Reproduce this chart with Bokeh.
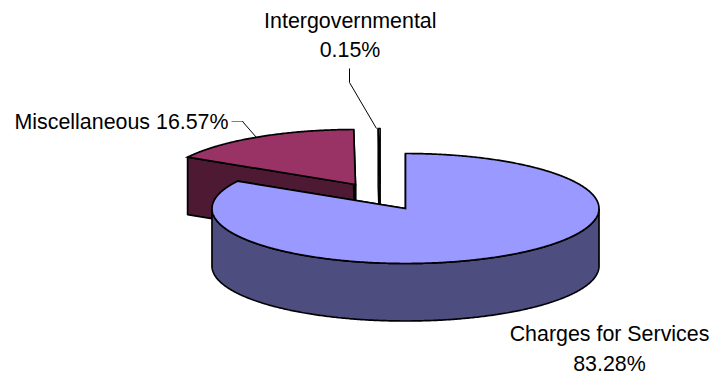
import numpy as np
from bokeh.plotting import figure
from bokeh.models import Range1d
from bokeh.core.properties import value
from bokeh.embed import file_html
from bokeh.resources import INLINE

# Revenue shares, in percent
names = ["Charges for Services", "Miscellaneous", "Intergovernmental"]
shares = [83.28, 16.57, 0.15]
top_colors = ["#9999FF", "#993366", "#FFFFCC"]
side_colors = ["#4D4D80", "#4D1933", "#808066"]
outline_widths = [1.7, 1.7, 1.5]

# Where each slice's apex sits after exploding, and the disc's proportions
apex_x = [405.0, 355.0, 379.5]
apex_y = [208.0, 184.0, 183.0]
radius_x = 193.5
radius_y = 55.0
depth = 57.5

# Text blocks: line, x, vertical centre
label_lines = [("Intergovernmental", 349.8, 20.5), ("0.15%", 349.5, 49),
               ("Charges for Services", 609, 333), ("83.28%", 609, 363)]
misc_label = ("Miscellaneous 16.57%", 14, 121)

# Leader lines
grey_leader = ([231, 243], [121, 121])
misc_leader = ([242, 256], [121, 137])
inter_leader = ([349, 349, 376], [68, 82, 128])

# Slices run clockwise from 12 o'clock in this order
draw_start = [0.0]
for s in shares[:-1]:
    draw_start.append(draw_start[-1] + s * 3.6)

p = figure(width=713, height=375, output_backend="svg", toolbar_location=None,
           x_range=Range1d(0, 713), y_range=Range1d(375, 0),
           min_border=0, outline_line_color=None)
p.axis.visible = False
p.grid.visible = False
p.background_fill_color = "white"
p.border_fill_color = "white"


def arc(i, a0, a1):
    t = np.radians(np.linspace(a0, a1, max(int(abs(a1 - a0) * 2), 2)))
    return apex_x[i] + radius_x * np.sin(t), apex_y[i] - radius_y * np.cos(t)


def draw_slice(i):
    a0 = draw_start[i]
    a1 = a0 + shares[i] * 3.6
    ax, ay = apex_x[i], apex_y[i]
    lw = outline_widths[i]

    # cut faces
    for a in (a0, a1):
        ex, ey = arc(i, a, a)
        ex, ey = ex[0], ey[0]
        p.patch([ax, ex, ex, ax], [ay, ey, ey + depth, ay + depth],
                fill_color=side_colors[i], line_color="black", line_width=lw)

    # outer wall: only the part that faces forward
    lo, hi = max(a0, 90.0), min(a1, 270.0)
    if hi > lo:
        x, y = arc(i, lo, hi)
        p.patch(np.r_[x, x[::-1]], np.r_[y, y[::-1] + depth],
                fill_color=side_colors[i], line_color="black", line_width=lw)

    # top face
    x, y = arc(i, a0, a1)
    p.patch(np.r_[ax, x], np.r_[ay, y], fill_color=top_colors[i],
            line_color="black", line_width=lw, line_join="miter")


# Back slices first so the large one overlaps them
for i in (1, 2, 0):
    draw_slice(i)

p.line(*grey_leader, line_color="#808080", line_width=1.2)
p.line(*misc_leader, line_color="black", line_width=1)
p.line(*inter_leader, line_color="black", line_width=1)

font = value("Liberation Sans")
for t, x, y in label_lines:
    p.text([x], [y], text=[t], text_align="center", text_baseline="middle",
           text_font=font, text_font_size="21.4px", text_color="black")
p.text([misc_label[1]], [misc_label[2]], text=[misc_label[0]], text_align="left",
       text_baseline="middle", text_font=font, text_font_size="21.4px",
       text_color="black")

open("out.html", "w").write(file_html(p, INLINE))
